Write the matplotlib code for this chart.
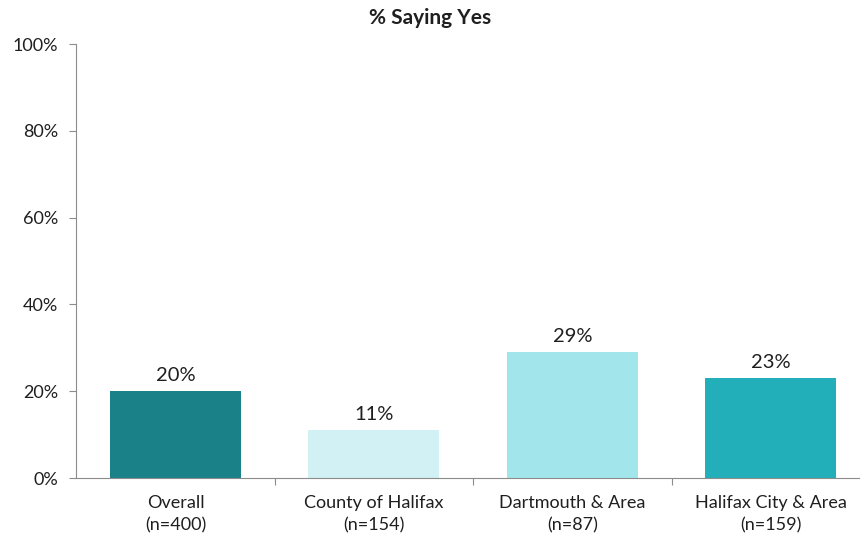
import numpy as np
import matplotlib
matplotlib.use("Agg")
import matplotlib.pyplot as plt
from matplotlib.ticker import FuncFormatter

categories = ["Overall\n(n=400)", "County of Halifax\n(n=154)",
              "Dartmouth & Area\n(n=87)", "Halifax City & Area\n(n=159)"]
values = [20, 11, 29, 23]
colors = ["#1B8189", "#D1F1F5", "#A2E6EC", "#23AFBA"]

plt.rcParams['font.family'] = ['Lato', 'DejaVu Sans']
axis_grey = "#8c8c8c"
text_col = "#1f1f1f"

fig = plt.figure(figsize=(8.6, 5.4), dpi=100)
ax = fig.add_axes([0.0887, 0.1148, 0.923, 0.8037])

x = np.arange(len(values))
bars = ax.bar(x, values, width=0.66, color=colors)
for b, v in zip(bars, values):
    ax.annotate(f"{v}%", (b.get_x() + b.get_width() / 2, v),
                xytext=(0, 5), textcoords="offset points",
                ha="center", va="bottom", fontsize=14.5, color=text_col)

ax.set_xlim(-0.5, 3.5)
ax.set_ylim(0, 100)
ax.set_yticks(range(0, 101, 20))
ax.yaxis.set_major_formatter(FuncFormatter(lambda v, p: f"{v:.0f}%"))

# category labels sit between the boundary ticks
ax.set_xticks(x)
ax.set_xticklabels(categories, fontsize=13, color=text_col)
for lbl in ax.get_xticklabels():
    lbl.set_linespacing(1.5)
ax.tick_params(axis="x", which="major", length=0, pad=12)
ax.set_xticks(np.arange(0.5, 3.5, 1), minor=True)
ax.tick_params(axis="x", which="minor", length=5, color=axis_grey, width=0.8)
ax.tick_params(axis="y", length=5, color=axis_grey, width=0.8,
               labelsize=13, labelcolor=text_col, pad=8)

for side in ["top", "right"]:
    ax.spines[side].set_visible(False)
for side in ["left", "bottom"]:
    ax.spines[side].set_color(axis_grey)
    ax.spines[side].set_linewidth(0.8)

fig.text(0.5, 0.967, "% Saying Yes", ha="center", va="center",
         fontsize=15, fontweight="bold", color=text_col)

fig.savefig("out.png", dpi=100)
